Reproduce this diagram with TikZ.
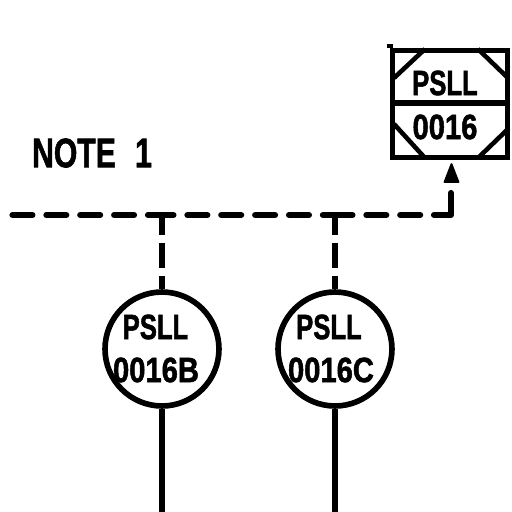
\documentclass[tikz,border=0pt]{standalone}
\usepackage{fontspec}
\setmainfont[BoldFeatures={FakeBold=1.6}]{Liberation Sans}
\usetikzlibrary{arrows,shapes,positioning,calc}
\begin{document}
\begin{tikzpicture}[x=0.02cm,y=0.02cm]
                    \tikzstyle{every node}+=[inner sep=0pt]
                    \tikzstyle{pipe}=[black,line width=3.3pt]
                    \tikzstyle{signal}=[black,line width=3.5pt,line cap=round,dash pattern=on 11.34pt off 7.94pt]
                    \tikzstyle{tap}=[black,line width=3.4pt,dash pattern=on 14.17pt off 4.54pt,dash phase=2.83pt]
                    \tikzstyle{instr}=[draw=black,line width=3.2pt,circle,minimum size=2.28cm]
                    \tikzstyle{tag}=[font=\bfseries\fontsize{20}{20}\selectfont,xscale=0.73,transform shape]
                    \tikzstyle{num}=[font=\bfseries\fontsize{20}{20}\selectfont,xscale=0.83,transform shape]
                    \tikzstyle{panel}=[draw=black,line width=3pt,rectangle,minimum width=2.3cm,minimum height=2.14cm]
                    \useasboundingbox (0,0) rectangle (512,-512);
                    % the panel mounted switch
                    \node [panel] (pan) at (450,-104) {};
                    \draw [black,line width=3pt] (pan.north west) -- ++(0,4);
                    \draw [black,line width=3pt] (pan.west |- 0,-103) -- (pan.east |- 0,-103);
                    \coordinate (tl1) at (394,-78); \coordinate (tl2) at (425,-49);
                    \coordinate (tr1) at (478,-49); \coordinate (tr2) at (508,-78);
                    \coordinate (bl1) at (394,-124); \coordinate (bl2) at (425,-158);
                    \coordinate (br1) at (478,-158); \coordinate (br2) at (508,-129);
                    \draw [black,line width=2.6pt] (tl1) -- (tl2);
                    \draw [black,line width=2.6pt] (tr1) -- (tr2);
                    \draw [black,line width=2.6pt] (bl1) -- (bl2);
                    \draw [black,line width=2.6pt] (br1) -- (br2);
                    \node [tag] (panTop) at (445,-83) {PSLL};
                    \node [num] (panBot) at (445,-127) {0016};
                    % the two field switches
                    \node [instr] (swB) at (162,-349) {};
                    \node [instr] (swC) at (335,-349) {};
                    \node [tag] (swBtop) at (155.5,-327) {PSLL};
                    \node [num] (swBbot) at (156,-370) {0016B};
                    \node [tag] (swCtop) at (329,-327) {PSLL};
                    \node [num] (swCbot) at (331,-370) {0016C};
                    \node [font=\bfseries\fontsize{23.5}{23.5}\selectfont,xscale=0.73,transform shape] (note) at (92,-153) {NOTE\hspace{15pt}1};
                    % signal lines
                    \coordinate (busL) at (12.5,-215);
                    \coordinate (busR) at (451,-215);
                    \coordinate (tipB) at (162,-215);
                    \coordinate (tipC) at (335,-215);
                    \coordinate (endB) at (162,-512);
                    \coordinate (endC) at (335,-512);
                    \coordinate (headT) at (451.5,-164);
                    \coordinate (headB) at (451.5,-182);
                    \coordinate (riseT) at (451,-193);
                    \coordinate (riseL) at (434,-215);
                    \draw [signal] (busL) -- (tipB);
                    \draw [signal,dash phase=4.82pt] (tipB) -- (tipC);
                    \draw [signal,dash phase=1.42pt] (tipC) -- (riseL);
                    \draw [pipe,line cap=round,line join=round,line width=3.5pt] (riseL) -- (busR) -- (riseT);
                    \draw [tap] (tipB) -- (swB.north);
                    \draw [tap] (tipC) -- (swC.north);
                    \draw [pipe] (swB.south) -- (endB);
                    \draw [pipe] (swC.south) -- (endC);
                    \filldraw [black,line width=1pt,line join=round] (headT) -- ($(headB)+(7,0)$) -- ($(headB)+(-7,0)$) -- cycle;
\end{tikzpicture}
\end{document}
